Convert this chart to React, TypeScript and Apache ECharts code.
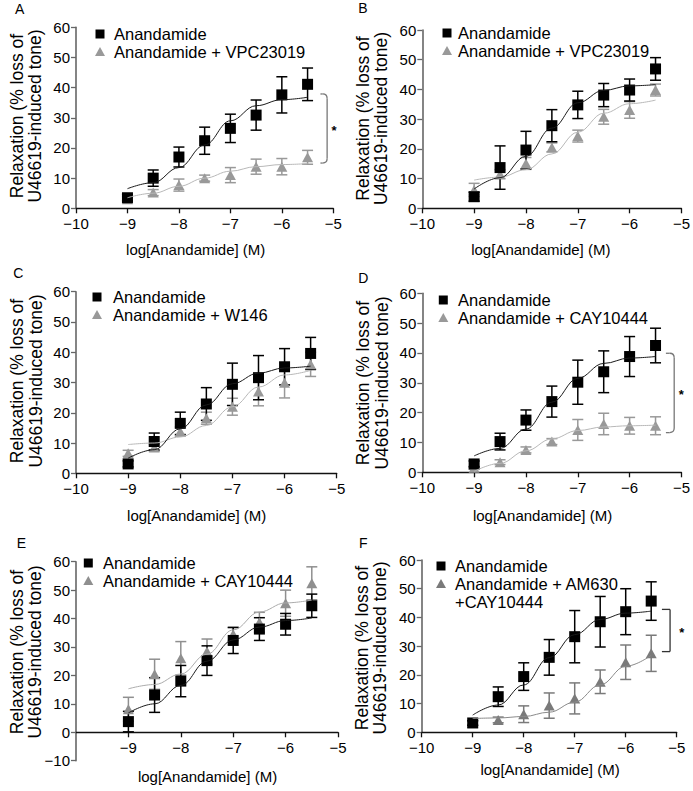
import React, { useEffect, useRef } from 'react';
import * as echarts from 'echarts';

// ---------- data ----------
const doses = [-9, -8.5, -8, -7.5, -7, -6.5, -6, -5.5];

// Panel A
const aAna = [3.5, 10, 17, 22.4, 26.5, 30.9, 37.6, 41.1];
const aAnaErr = [1, 2.7, 3.3, 4.5, 4.7, 5, 6, 5.4];
const aDrug = [3, 5.2, 7.7, 10, 11, 13.8, 13.8, 16.9];
const aDrugErr = [0.8, 1, 2, 1, 2.5, 2.5, 2.7, 2.3];
const aFitAna = [6.5, 8.5, 13.5, 21, 29, 34, 36, 36.8];
const aFitDrug = [3.5, 5, 7.3, 10, 12.3, 13.8, 14.5, 14.8];

// Panel B
const bAna = [3.9, 13.7, 19.6, 27.8, 34.8, 38.1, 39.8, 46.9];
const bAnaErr = [1.5, 7.3, 6.3, 5.4, 4.6, 3.9, 3.7, 3.8];
const bDrug = [6.2, 11.5, 15.1, 20.5, 24.3, 30.8, 33.1, 39.8];
const bDrugErr = [2.2, 1.5, 2, 1.5, 2, 2.5, 2.8, 2];
const bFitAna = [6.5, 10.3, 17.5, 27, 35.5, 39.7, 41.2, 41.6];
const bFitDrug = [9.5, 10.5, 13, 18.3, 25.6, 32, 35.2, 36.4];

// Panel C
const cAna = [3.1, 10.5, 16.5, 22.9, 29.4, 31.6, 35.2, 39.6];
const cAnaErr = [1, 2.8, 3.7, 5.4, 7, 7.3, 6, 5.3];
const cDrug = [6.6, 8.5, 13.8, 18.2, 22, 27, 29.9, 36];
const cDrugErr = [1, 1.2, 1.5, 2, 2.8, 4.7, 5, 4];
const cFitAna = [5, 7.8, 14.7, 22.6, 29.6, 33.1, 34.8, 35.4];
const cFitDrug = [9.5, 10, 12, 15.8, 22, 28.5, 32.5, 34];

// Panel D
const dAna = [2.8, 10.3, 17.5, 23.7, 30.2, 33.7, 38.8, 42.5];
const dAnaErr = [1, 2.8, 3.4, 5.2, 7.4, 7, 6.7, 5.8];
const dDrug = [1.5, 3.4, 7.5, 10.3, 14.2, 16.2, 15.6, 15.6];
const dDrugErr = [0.5, 0.8, 1, 1, 3.5, 3.6, 2.8, 3];
const dFitAna = [5.5, 8, 14.5, 23.5, 31.5, 36.5, 38.3, 38.8];
const dFitDrug = [0.3, 3, 7.2, 11.2, 14, 15.2, 15.6, 15.8];

// Panel E
const eAna = [3.75, 13.1, 18, 25.2, 32.3, 36.3, 38, 44.5];
const eAnaErr = [3.6, 6.1, 5.5, 5.2, 4.6, 4, 3.8, 4.1];
const eDrug = [8.1, 20.4, 26, 28.4, 34.5, 38.7, 45.4, 52.4];
const eDrugErr = [4.2, 5.3, 5.9, 4.4, 2.3, 3.5, 4.6, 5.8];
const eFitAna = [6.8, 10, 16.5, 25, 32.5, 37, 39.3, 40.2];
const eFitDrug = [15.3, 16.8, 20.5, 27.5, 36, 42.3, 45.5, 46.5];

// Panel F
const fAna = [3.25, 12.4, 19.4, 26.1, 33.3, 38.5, 42, 45.7];
const fAnaErr = [0.8, 3.4, 4.8, 6.2, 9.1, 8.8, 8, 6.7];
const fDrug = [3.2, 4.3, 6.3, 9.3, 11.8, 17.6, 24.4, 27.5];
const fDrugErr = [0.8, 1, 2.9, 4.4, 5.4, 4.1, 6, 6.3];
const fFitAna = [6, 9.5, 16.5, 26, 34, 39.3, 41.5, 42.2];
const fFitDrug = [4.8, 5, 5.5, 7, 10.5, 16.5, 23, 26.8];

// significance brackets [xLeft, xRight, yTop, yBottom]
const aBracket = [-5.25, -5.12, 37.9, 15];
const dBracket = [-5.3, -5.14, 39.9, 13.3];
const fBracket = [-5.29, -5.13, 42.8, 28.1];

const anaName = 'Anandamide';
const xTitle = 'log[Anandamide] (M)';
const yTitle1 = 'Relaxation (% loss of';
const yTitle2 = 'U46619-induced tone)';

// ---------- layout / style ----------
const FONT = '"Liberation Sans", Arial, Helvetica, sans-serif';

const panels = [
  {
    letter: 'A', ana: aAna, anaErr: aAnaErr, drug: aDrug, drugErr: aDrugErr, fitAna: aFitAna, fitDrug: aFitDrug,
    drugLegend: ['Anandamide + VPC23019'], bracket: aBracket, rounded: true, starDx: 7, bracketColor: '#777',
    grid: { left: 76, top: 27.3, width: 257.3, height: 181 }, yMin: 0,
    letterPos: [15, 8.5], yLab: [16.7, 35, 116], xLab: [195.7, 249],
    leg: { mx: 100, tx: 114, rows: [34, 52] },
    triColor: '#999999', fitGrey: '#b8b8b8',
  },
  {
    letter: 'B', ana: bAna, anaErr: bAnaErr, drug: bDrug, drugErr: bDrugErr, fitAna: bFitAna, fitDrug: bFitDrug,
    drugLegend: ['Anandamide + VPC23019'], bracket: null, rounded: true, starDx: 7, bracketColor: '#777',
    grid: { left: 422.3, top: 30, width: 260, height: 178.3 }, yMin: 0,
    letterPos: [358.3, 8], yLab: [363.3, 381, 118.5], xLab: [540.8, 249],
    leg: { mx: 447, tx: 458, rows: [33, 51] },
    triColor: '#999999', fitGrey: '#b8b8b8',
  },
  {
    letter: 'C', ana: cAna, anaErr: cAnaErr, drug: cDrug, drugErr: cDrugErr, fitAna: cFitAna, fitDrug: cFitDrug,
    drugLegend: ['Anandamide + W146'], bracket: null, rounded: true, starDx: 7, bracketColor: '#777',
    grid: { left: 76, top: 291.7, width: 260.7, height: 181.6 }, yMin: 0,
    letterPos: [13.3, 273.3], yLab: [17.3, 36, 381], xLab: [196.7, 515],
    leg: { mx: 97, tx: 113, rows: [297, 315] },
    triColor: '#999999', fitGrey: '#b8b8b8',
  },
  {
    letter: 'D', ana: dAna, anaErr: dAnaErr, drug: dDrug, drugErr: dDrugErr, fitAna: dFitAna, fitDrug: dFitDrug,
    drugLegend: ['Anandamide + CAY10444'], bracket: dBracket, rounded: true, starDx: 7, bracketColor: '#777',
    grid: { left: 422.3, top: 293.3, width: 260, height: 179 }, yMin: 0,
    letterPos: [358.3, 277.7], yLab: [363.3, 381.7, 383], xLab: [542.5, 515],
    leg: { mx: 443.3, tx: 458, rows: [300, 318] },
    triColor: '#999999', fitGrey: '#b8b8b8',
  },
  {
    letter: 'E', ana: eAna, anaErr: eAnaErr, drug: eDrug, drugErr: eDrugErr, fitAna: eFitAna, fitDrug: eFitDrug,
    drugLegend: ['Anandamide + CAY10444'], bracket: null, rounded: true, starDx: 7, bracketColor: '#777',
    grid: { left: 76, top: 561.7, width: 262, height: 199 }, yMin: -10,
    letterPos: [16.7, 543], yLab: [16.7, 35, 652], xLab: [207.5, 776],
    leg: { mx: 88.3, tx: 103, rows: [563, 581] },
    triColor: '#8f8f8f', fitGrey: '#ababab',
  },
  {
    letter: 'F', ana: fAna, anaErr: fAnaErr, drug: fDrug, drugErr: fDrugErr, fitAna: fFitAna, fitDrug: fFitDrug,
    drugLegend: ['Anandamide + AM630', '+CAY10444'], bracket: fBracket, rounded: false, starDx: 11.7, bracketColor: '#333',
    grid: { left: 421.7, top: 560, width: 255, height: 172.3 }, yMin: 0,
    letterPos: [359, 543], yLab: [361.7, 380, 648], xLab: [550, 769],
    leg: { mx: 441, tx: 455, rows: [566, 584, 602] },
    triColor: '#7a7a7a', fitGrey: '#8a8a8a',
  },
];

const fmt = (v: number) => (v < 0 ? '\u2212' + Math.abs(v) : String(v));

function errRender(color: string) {
  return (params: any, api: any) => {
    const x = api.value(0);
    const y = api.value(1);
    const e = api.value(2);
    const top = api.coord([x, y + e]);
    const bot = api.coord([x, y - e]);
    const hw = 5.5;
    const style = { stroke: color, lineWidth: 1.5 };
    return {
      type: 'group',
      children: [
        { type: 'line', shape: { x1: top[0], y1: top[1], x2: bot[0], y2: bot[1] }, style },
        { type: 'line', shape: { x1: top[0] - hw, y1: top[1], x2: top[0] + hw, y2: top[1] }, style },
        { type: 'line', shape: { x1: bot[0] - hw, y1: bot[1], x2: bot[0] + hw, y2: bot[1] }, style },
      ],
    };
  };
}

function bracketRender(rounded: boolean, color: string, starDx: number) {
  return (params: any, api: any) => {
    const xl = api.value(0), xr = api.value(1), yt = api.value(2), yb = api.value(3);
    const tl = api.coord([xl, yt]);
    const tr = api.coord([xr, yt]);
    const br = api.coord([xr, yb]);
    const bl = api.coord([xl, yb]);
    const r = rounded ? 4.5 : 0;
    const style = { stroke: color, lineWidth: 1.3, fill: null };
    const children: any[] = [
      { type: 'line', shape: { x1: tl[0], y1: tl[1], x2: tr[0] - r, y2: tr[1] }, style },
      { type: 'line', shape: { x1: tr[0], y1: tr[1] + r, x2: br[0], y2: br[1] - r }, style },
      { type: 'line', shape: { x1: br[0] - r, y1: br[1], x2: bl[0], y2: bl[1] }, style },
    ];
    if (r) {
      children.push({ type: 'bezierCurve', shape: { x1: tr[0] - r, y1: tr[1], x2: tr[0], y2: tr[1] + r, cpx1: tr[0], cpy1: tr[1] }, style });
      children.push({ type: 'bezierCurve', shape: { x1: br[0], y1: br[1] - r, x2: br[0] - r, y2: br[1], cpx1: br[0], cpy1: br[1] }, style });
    }
    children.push({
      type: 'text',
      x: tr[0] + starDx,
      y: (tr[1] + br[1]) / 2 + 2,
      style: { text: '*', fill: '#000', font: `bold 13px ${FONT}`, align: 'center', verticalAlign: 'middle' },
    });
    return { type: 'group', children };
  };
}

function buildOption() {
  const grid: any[] = [];
  const xAxis: any[] = [];
  const yAxis: any[] = [];
  const series: any[] = [];
  const graphic: any[] = [];

  panels.forEach((p, i) => {
    grid.push({ ...p.grid, containLabel: false });
    // place x axis on the y = 0 line (offset upward from grid bottom when y-range goes negative)
    const zeroOffset = -p.grid.height * (0 - p.yMin) / (60 - p.yMin);
    xAxis.push({
      gridIndex: i, type: 'value', min: -10, max: -5, interval: 1,
      offset: zeroOffset,
      axisLine: { show: true, onZero: false, lineStyle: { color: '#111', width: 1.3 } },
      axisTick: { show: true, length: 5, lineStyle: { color: '#111', width: 1.3 } },
      axisLabel: {
        color: '#000', fontSize: 15, fontFamily: FONT, margin: 8, formatter: fmt,
        showMinLabel: p.yMin === 0,
      },
      splitLine: { show: false },
    });
    yAxis.push({
      gridIndex: i, type: 'value', min: p.yMin, max: 60, interval: 10,
      axisLine: { show: true, onZero: false, lineStyle: { color: '#666', width: 1.6 } },
      axisTick: { show: true, length: 5, lineStyle: { color: '#666', width: 1.3 } },
      axisLabel: { color: '#000', fontSize: 15, fontFamily: FONT, margin: 6, formatter: fmt },
      splitLine: { show: false },
    });

    const common = { xAxisIndex: i, yAxisIndex: i };
    series.push({
      ...common, type: 'line', name: p.drugLegend.join(' '), smooth: 0.4, smoothMonotone: 'x', showSymbol: false,
      lineStyle: { color: p.fitGrey, width: 1 }, data: doses.map((d, j) => [d, p.fitDrug[j]]), silent: true,
    });
    series.push({
      ...common, type: 'line', name: anaName, smooth: 0.4, smoothMonotone: 'x', showSymbol: false,
      lineStyle: { color: '#1a1a1a', width: 1 }, data: doses.map((d, j) => [d, p.fitAna[j]]), silent: true,
    });
    series.push({
      ...common, type: 'custom', renderItem: errRender(p.triColor), encode: { x: 0, y: 1 },
      data: doses.map((d, j) => [d, p.drug[j], p.drugErr[j]]), silent: true,
    });
    series.push({
      ...common, type: 'scatter', symbol: 'triangle', symbolSize: [11, 10],
      itemStyle: { color: p.triColor, opacity: 1 }, data: doses.map((d, j) => [d, p.drug[j]]),
    });
    series.push({
      ...common, type: 'custom', renderItem: errRender('#000'), encode: { x: 0, y: 1 },
      data: doses.map((d, j) => [d, p.ana[j], p.anaErr[j]]), silent: true,
    });
    series.push({
      ...common, type: 'scatter', symbol: 'rect', symbolSize: 11,
      itemStyle: { color: '#000', opacity: 1 }, data: doses.map((d, j) => [d, p.ana[j]]),
    });
    if (p.bracket) {
      series.push({
        ...common, type: 'custom', clip: false, renderItem: bracketRender(p.rounded, p.bracketColor, p.starDx),
        encode: { x: [0, 1], y: [2, 3] }, data: [p.bracket], silent: true,
      });
    }

    // panel letter
    graphic.push({
      type: 'text', x: p.letterPos[0], y: p.letterPos[1],
      style: { text: p.letter, font: `14px ${FONT}`, fill: '#000', align: 'left', verticalAlign: 'middle' },
    });
    // y-axis title (two lines)
    graphic.push({
      type: 'text', x: p.yLab[0], y: p.yLab[2], rotation: Math.PI / 2,
      style: { text: yTitle1, font: `17.5px ${FONT}`, fill: '#000', align: 'center', verticalAlign: 'middle' },
    });
    graphic.push({
      type: 'text', x: p.yLab[1], y: p.yLab[2], rotation: Math.PI / 2,
      style: { text: yTitle2, font: `17.5px ${FONT}`, fill: '#000', align: 'center', verticalAlign: 'middle' },
    });
    // x-axis title
    graphic.push({
      type: 'text', x: p.xLab[0], y: p.xLab[1],
      style: { text: xTitle, font: `15px ${FONT}`, fill: '#000', align: 'center', verticalAlign: 'middle' },
    });
    // legend
    const { mx, tx, rows } = p.leg;
    graphic.push({ type: 'rect', shape: { x: mx - 4.5, y: rows[0] - 4.5, width: 9, height: 9 }, style: { fill: '#000' } });
    graphic.push({
      type: 'text', x: tx, y: rows[0],
      style: { text: anaName, font: `16.5px ${FONT}`, fill: '#000', align: 'left', verticalAlign: 'middle' },
    });
    graphic.push({
      type: 'polygon',
      shape: { points: [[mx - 5, rows[1] + 4], [mx + 5, rows[1] + 4], [mx, rows[1] - 5]] },
      style: { fill: p.triColor },
    });
    p.drugLegend.forEach((t, k) => {
      graphic.push({
        type: 'text', x: tx, y: rows[1 + k],
        style: { text: t, font: `16.5px ${FONT}`, fill: '#000', align: 'left', verticalAlign: 'middle' },
      });
    });
  });

  return {
    animation: false,
    backgroundColor: '#ffffff',
    grid, xAxis, yAxis, series, graphic,
  };
}

export default function App() {
  const ref = useRef<HTMLDivElement>(null);
  useEffect(() => {
    if (!ref.current) return;
    const chart = echarts.init(ref.current, null, { renderer: 'svg' });
    chart.setOption(buildOption() as any);
    return () => chart.dispose();
  }, []);
  return (
    <div
      ref={ref}
      style={{ position: 'absolute', left: 0, top: 0, width: 693, height: 791, background: '#fff' }}
    />
  );
}
